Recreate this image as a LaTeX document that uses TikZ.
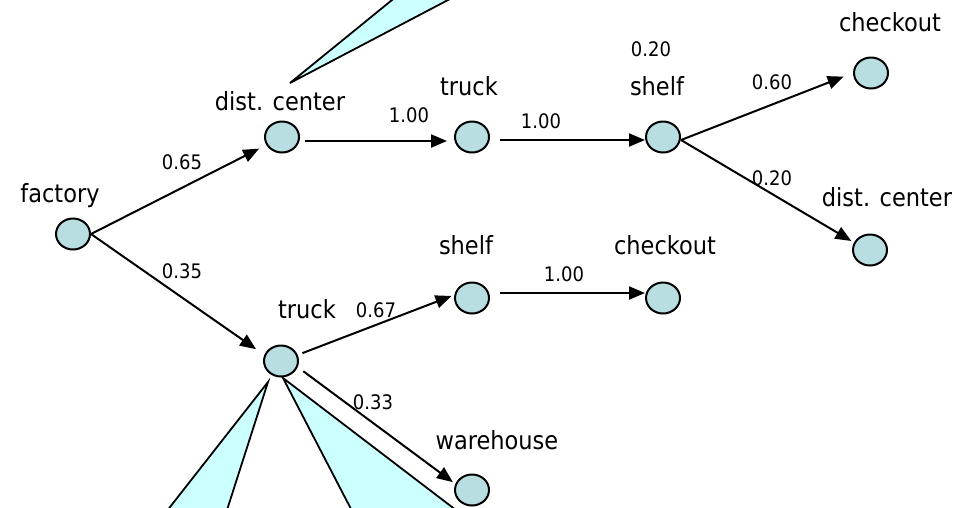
\documentclass[tikz,border=0pt]{standalone}
\usepackage{fontspec}
\setmainfont{DejaVu Sans Condensed}
\usetikzlibrary{arrows.meta,shapes.geometric}
\definecolor{nodefill}{RGB}{184,222,226}
\definecolor{callfill}{RGB}{204,255,255}
\begin{document}
\begin{tikzpicture}[x=1pt,y=-1pt,
  state/.style={ellipse, draw=black, line width=2pt, fill=nodefill,
    minimum width=34pt, minimum height=31pt, inner sep=0pt},
  lbl/.style={font=\fontsize{25}{29}\selectfont, inner sep=0pt},
  prob/.style={font=\fontsize{20}{24}\selectfont, inner sep=0pt},
  arr/.style={line width=2pt, -{Triangle[length=16pt,width=13pt]}},
  callout/.style={draw=black, line width=1.8pt, fill=callfill, line join=miter}]
\useasboundingbox (0,0) rectangle (971,507);
\clip (0,0) rectangle (971,507);

% callout wedges
\coordinate (capA) at (290,83);
\coordinate (capB) at (268,382);
\coordinate (capC) at (283,378);
\draw[callout] (capA) -- (416.6,-20) -- (486.1,-20) -- cycle;
\draw[callout] (capB) -- (152,530) -- (220.6,530) -- cycle;
\draw[callout] (capC) -- (361.9,530) -- (482.1,530) -- cycle;

% states
\node[state] (fac) at (73,234) {};
\node[state] (dc1) at (282,137) {};
\node[state] (tr1) at (472,137) {};
\node[state] (sh1) at (663,137) {};
\node[state] (ck1) at (871,73) {};
\node[state] (dc2) at (870,250) {};
\node[state] (sh2) at (472,298) {};
\node[state] (ck2) at (663,298) {};
\node[state] (tr2) at (281,361) {};
\node[state] (wh)  at (472,490) {};

% state names
\node[lbl] (tfac) at (60,196) {factory};
\node[lbl] (tdc1) at (280,101) {dist. center};
\node[lbl] (ttr1) at (469,86) {truck};
\node[lbl] (tsh1) at (657,86) {shelf};
\node[lbl] (tck1) at (890,22) {checkout};
\node[lbl] (tdc2) at (887,197) {dist. center};
\node[lbl] (tsh2) at (466,245) {shelf};
\node[lbl] (tck2) at (665,245) {checkout};
\node[lbl] (ttr2) at (307,309) {truck};
\node[lbl] (twh)  at (497,440) {warehouse};

% probabilities
\node[prob] (p1) at (182,162) {0.65};
\node[prob] (p2) at (182,271) {0.35};
\node[prob] (p3) at (409,115) {1.00};
\node[prob] (p4) at (541,121) {1.00};
\node[prob] (p5) at (651,49) {0.20};
\node[prob] (p6) at (772,82) {0.60};
\node[prob] (p7) at (772,178) {0.20};
\node[prob] (p8) at (564,274) {1.00};
\node[prob] (p9) at (376,310) {0.67};
\node[prob] (p10) at (373,402) {0.33};

% transitions
\draw[arr, shorten >=8pt] (fac.east) -- (dc1);
\draw[arr, shorten >=10pt] (fac.east) -- (tr2.160);
\draw[arr, shorten <=5pt, shorten >=7pt] ([yshift=-4pt]dc1.east) -- ([yshift=-4pt]tr1.west);
\draw[arr, shorten <=10pt] ([yshift=-3pt]tr1.east) -- ([yshift=-3pt]sh1.west);
\draw[arr, shorten >=10pt] ([yshift=-3pt]sh1.east) -- (ck1.west);
\draw[arr, shorten >=3pt] ([yshift=-3pt]sh1.east) -- (dc2.155);
\draw[arr, shorten <=5pt, shorten >=3pt] (tr2.20) -- (sh2.170);
\draw[arr, shorten <=10pt] ([yshift=5pt]sh2.east) -- ([yshift=5pt]ck2.west);
\draw[arr, shorten <=7pt, shorten >=3pt] (tr2.-20) -- (wh.160);
\end{tikzpicture}
\end{document}
